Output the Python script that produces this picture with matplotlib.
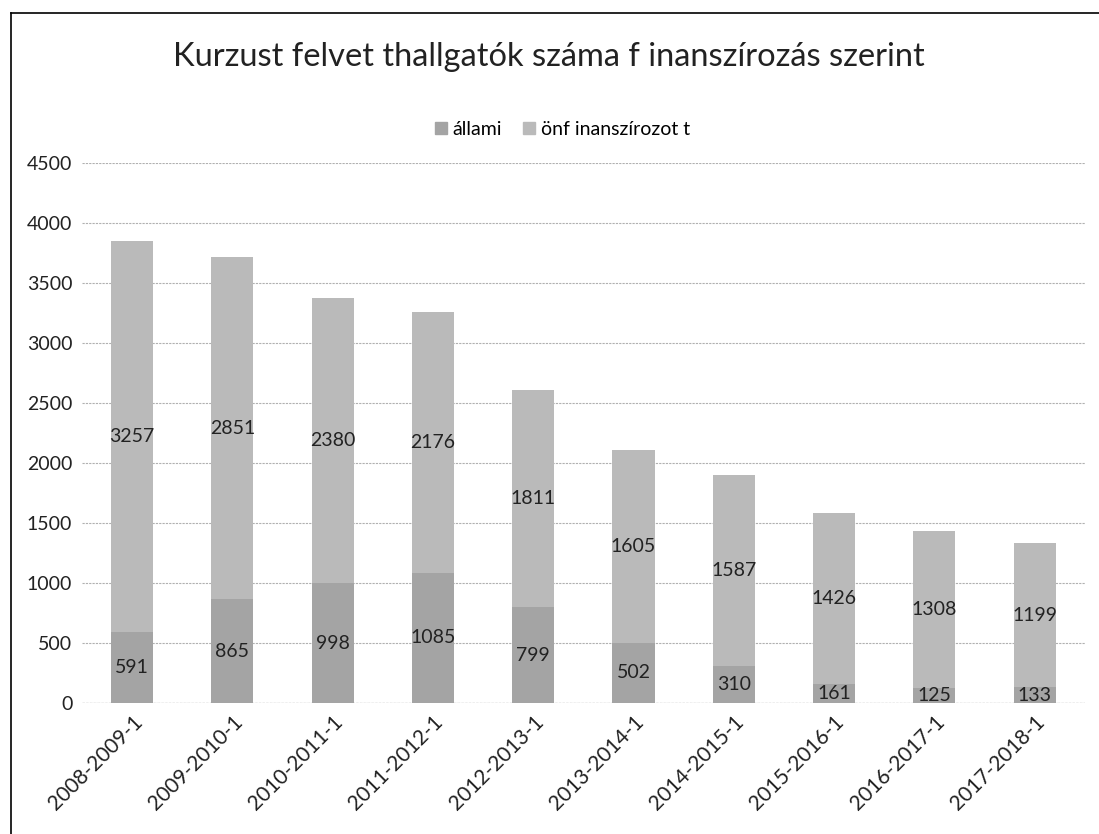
import matplotlib
matplotlib.use('Agg')
from matplotlib import pyplot as plt
from matplotlib.lines import Line2D
import numpy as np

# data
semesters = ['2008-2009-1', '2009-2010-1', '2010-2011-1', '2011-2012-1', '2012-2013-1',
             '2013-2014-1', '2014-2015-1', '2015-2016-1', '2016-2017-1', '2017-2018-1']
allami = [591, 865, 998, 1085, 799, 502, 310, 161, 125, 133]
onfin = [3257, 2851, 2380, 2176, 1811, 1605, 1587, 1426, 1308, 1199]
series_names = ['állami', 'önf inanszírozot t']
title_text = 'Kurzust felvet thallgatók száma f inanszírozás szerint'

plt.rcParams['font.family'] = ['Lato', 'DejaVu Sans']

fig = plt.figure(figsize=(10.99, 8.34), dpi=100)
ax = fig.add_axes([0.0746, 0.157, 0.9124, 0.6476])

x = np.arange(len(semesters))
width = 0.42
col_a = '#a4a4a4'
col_b = '#bababa'

b1 = ax.bar(x, allami, width, color=col_a, zorder=3)
b2 = ax.bar(x, onfin, width, bottom=allami, color=col_b, zorder=3)

# value labels in the middle of each segment
for i in range(len(x)):
    ax.text(x[i], allami[i] / 2, str(allami[i]), ha='center', va='center',
            fontsize=14, color='#222222', zorder=4)
    ax.text(x[i], allami[i] + onfin[i] / 2, str(onfin[i]), ha='center', va='center',
            fontsize=14, color='#222222', zorder=4)

ax.set_xlim(-0.5, len(x) - 0.5)
ax.set_ylim(0, 4500)
ax.set_yticks(np.arange(0, 4501, 500))
ax.yaxis.grid(True, color='#b0b0b0', linestyle=(0, (2, 1)), linewidth=0.8, zorder=0)
ax.set_axisbelow(True)
for s in ax.spines.values():
    s.set_visible(False)
ax.axhline(0, color='#a0a0a0', linewidth=0.9, linestyle=(0, (2, 1)), zorder=2)
ax.tick_params(axis='both', length=0, labelsize=14, colors='#222222')
ax.tick_params(axis='y', pad=7)
ax.tick_params(axis='x', pad=6, labelsize=15)
ax.set_xticks(x)
ax.set_xticklabels(semesters, rotation=45, ha='right', rotation_mode='anchor')

fig.text(0.499, 0.932, title_text, ha='center', va='center', fontsize=23.5, color='#222222')

handles = [Line2D([], [], marker='s', linestyle='none', markersize=9, color=col_a),
           Line2D([], [], marker='s', linestyle='none', markersize=9, color=col_b)]
fig.legend(handles, series_names, loc='center', bbox_to_anchor=(0.51, 0.845), ncol=2,
           frameon=False, fontsize=14, handletextpad=0.1, columnspacing=0.9,
           handlelength=1.0)

# chart area border (only top and left edges are inside the scan)
fig.add_artist(Line2D([0.010, 1.0], [0.9845, 0.9845], transform=fig.transFigure, color='black', linewidth=1.2))
fig.add_artist(Line2D([0.010, 0.010], [0.0, 0.9845], transform=fig.transFigure, color='black', linewidth=1.2))

fig.savefig('out.png', dpi=100)
